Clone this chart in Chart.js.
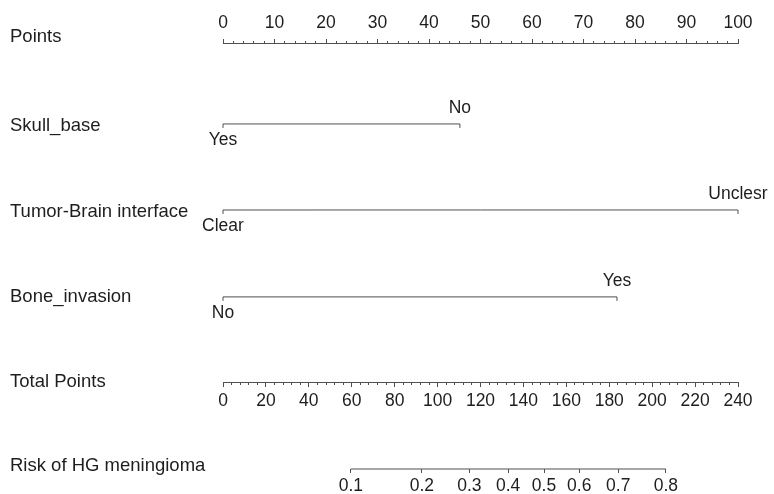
<!DOCTYPE html>
<html>
<head>
<meta charset="utf-8">
<script src="https://cdn.jsdelivr.net/npm/chart.js@4.4.0/dist/chart.umd.min.js"></script>
<style>
  html, body { margin: 0; padding: 0; background: #fff; }
  #wrap { width: 774px; height: 494px; position: relative; }
</style>
</head>
<body>
<div id="wrap"><canvas id="nomo"></canvas></div>
<script>
/* =========================
   資料
========================= */
const ROW_NAMES = ["Points", "Skull_base", "Tumor-Brain interface", "Bone_invasion", "Total Points", "Risk of HG meningioma"];

const POINT_TICKS = [0, 10, 20, 30, 40, 50, 60, 70, 80, 90, 100];
const TOTAL_TICKS = [0, 20, 40, 60, 80, 100, 120, 140, 160, 180, 200, 220, 240];

const SKULL_LEVELS = ["Yes", "No"];
const SKULL_POINTS = [0, 46];
const TUMOR_LEVELS = ["Clear", "Unclesr"];
const TUMOR_POINTS = [0, 100];
const BONE_LEVELS = ["No", "Yes"];
const BONE_POINTS = [0, 76.5];

// risk tick labels and where they sit on the total-points scale
const RISK_LABELS = ["0.1", "0.2", "0.3", "0.4", "0.5", "0.6", "0.7", "0.8"];
const RISK_AT_TOTAL = [59.6, 92.7, 114.8, 132.9, 149.6, 166.0, 184.2, 206.4];

/* =========================
   版面
========================= */
const ROW_Y = [0, 0.95, 1.96, 2.98, 3.99, 5];         // axis line rows
const LABEL_Y = [-0.07, 0.975, 1.98, 2.98, 3.98, 4.96]; // left names
const POINT_MINOR = 2;
const TOTAL_MINOR = 4;

const TEXT = "#1e1e1e";
const LINE = "#505050";
const FAMILY = "'Liberation Sans', Arial, sans-serif";
const TICK_SIZE = 17.5;
const NAME_SIZE = 18.5;

Chart.defaults.font.family = FAMILY;
Chart.defaults.font.size = TICK_SIZE;
Chart.defaults.color = TEXT;

function stepTicks(max, step) {
  const out = [];
  for (let v = 0; v <= max + 1e-9; v += step) out.push({ value: Math.round(v * 100) / 100 });
  return out;
}

function tickGrid(majors, minorDash, minorOffset) {
  const major = (c) => c.tick && majors.includes(c.tick.value);
  return {
    drawOnChartArea: false,
    drawTicks: true,
    tickLength: 4,
    tickWidth: 1,
    tickColor: LINE,
    tickBorderDash: (c) => major(c) ? [] : minorDash,
    tickBorderDashOffset: (c) => major(c) ? 0 : minorOffset
  };
}

function levelSet(levels, points, row) {
  return {
    levels: levels,
    data: points.map(p => ({ x: p, y: ROW_Y[row] })),
    xAxisID: "x",
    yAxisID: "y",
    showLine: true,
    borderColor: LINE,
    borderWidth: 1,
    pointStyle: "dash",
    pointRotation: 90,
    pointRadius: 4,
    pointBorderColor: LINE,
    pointBorderWidth: 1,
    clip: false
  };
}

// 變數水準文字：第一個在線下，第二個在線上
const levelLabels = {
  id: "levelLabels",
  afterDatasetsDraw(chart) {
    const { ctx } = chart;
    ctx.save();
    ctx.font = `${TICK_SIZE}px ${FAMILY}`;
    ctx.fillStyle = TEXT;
    ctx.textAlign = "center";
    ctx.textBaseline = "middle";
    chart.data.datasets.forEach((ds, di) => {
      if (!ds.levels) return;
      chart.getDatasetMeta(di).data.forEach((pt, i) => {
        ctx.fillText(ds.levels[i], pt.x, pt.y + (i === 0 ? 16 : -16));
      });
    });
    ctx.restore();
  }
};

/* =========================
   圖表
========================= */
new Chart(document.getElementById("nomo"), {
  type: "scatter",
  data: {
    datasets: [
      levelSet(SKULL_LEVELS, SKULL_POINTS, 1),
      levelSet(TUMOR_LEVELS, TUMOR_POINTS, 2),
      levelSet(BONE_LEVELS, BONE_POINTS, 3),
      {
        data: [
          { x: RISK_AT_TOTAL[0], y: ROW_Y[5] },
          { x: RISK_AT_TOTAL[RISK_AT_TOTAL.length - 1], y: ROW_Y[5] }
        ],
        xAxisID: "xRisk",
        yAxisID: "y",
        showLine: true,
        borderColor: LINE,
        borderWidth: 1,
        pointRadius: 0,
        clip: false
      }
    ]
  },
  options: {
    responsive: true,
    maintainAspectRatio: false,
    animation: false,
    events: [],
    layout: { padding: { left: 10, right: 36, top: 0, bottom: 25 } },
    plugins: { legend: { display: false }, tooltip: { enabled: false } },
    scales: {
      y: {
        type: "linear",
        reverse: true,
        min: 0,
        max: 5,
        grid: { display: false },
        border: { display: false },
        afterBuildTicks: (s) => { s.ticks = LABEL_Y.map(v => ({ value: v })); },
        afterFit: (s) => { s.width = 213; },
        ticks: {
          autoSkip: false,
          crossAlign: "far",
          padding: 0,
          color: TEXT,
          font: { size: NAME_SIZE },
          callback: (v, i) => ROW_NAMES[i]
        }
      },
      x: {
        type: "linear",
        position: "top",
        min: 0,
        max: 100,
        border: { display: true, color: LINE, width: 1 },
        grid: tickGrid(POINT_TICKS, [2, 2], 2),
        afterBuildTicks: (s) => { s.ticks = stepTicks(100, POINT_MINOR); },
        afterFit: (s) => { s.height = 43; },
        ticks: {
          autoSkip: false,
          maxRotation: 0,
          minRotation: 0,
          padding: 5,
          color: TEXT,
          callback: (v) => POINT_TICKS.includes(v) ? String(v) : ""
        }
      },
      xTotal: {
        type: "linear",
        axis: "x",
        position: { y: ROW_Y[4] },
        min: 0,
        max: 240,
        border: { display: true, color: LINE, width: 1 },
        grid: tickGrid(TOTAL_TICKS, [2, 4], 0),
        afterBuildTicks: (s) => { s.ticks = stepTicks(240, TOTAL_MINOR); },
        ticks: {
          autoSkip: false,
          maxRotation: 0,
          minRotation: 0,
          padding: 4,
          color: TEXT,
          callback: (v) => TOTAL_TICKS.includes(v) ? String(v) : ""
        }
      },
      xRisk: {
        type: "linear",
        axis: "x",
        position: { y: ROW_Y[5] },
        min: 0,
        max: 240,
        border: { display: false },
        grid: tickGrid(RISK_AT_TOTAL, [], 0),
        afterBuildTicks: (s) => { s.ticks = RISK_AT_TOTAL.map(v => ({ value: v })); },
        ticks: {
          autoSkip: false,
          maxRotation: 0,
          minRotation: 0,
          padding: 3,
          color: TEXT,
          callback: (v, i) => RISK_LABELS[i]
        }
      }
    }
  },
  plugins: [levelLabels]
});
</script>
</body>
</html>
